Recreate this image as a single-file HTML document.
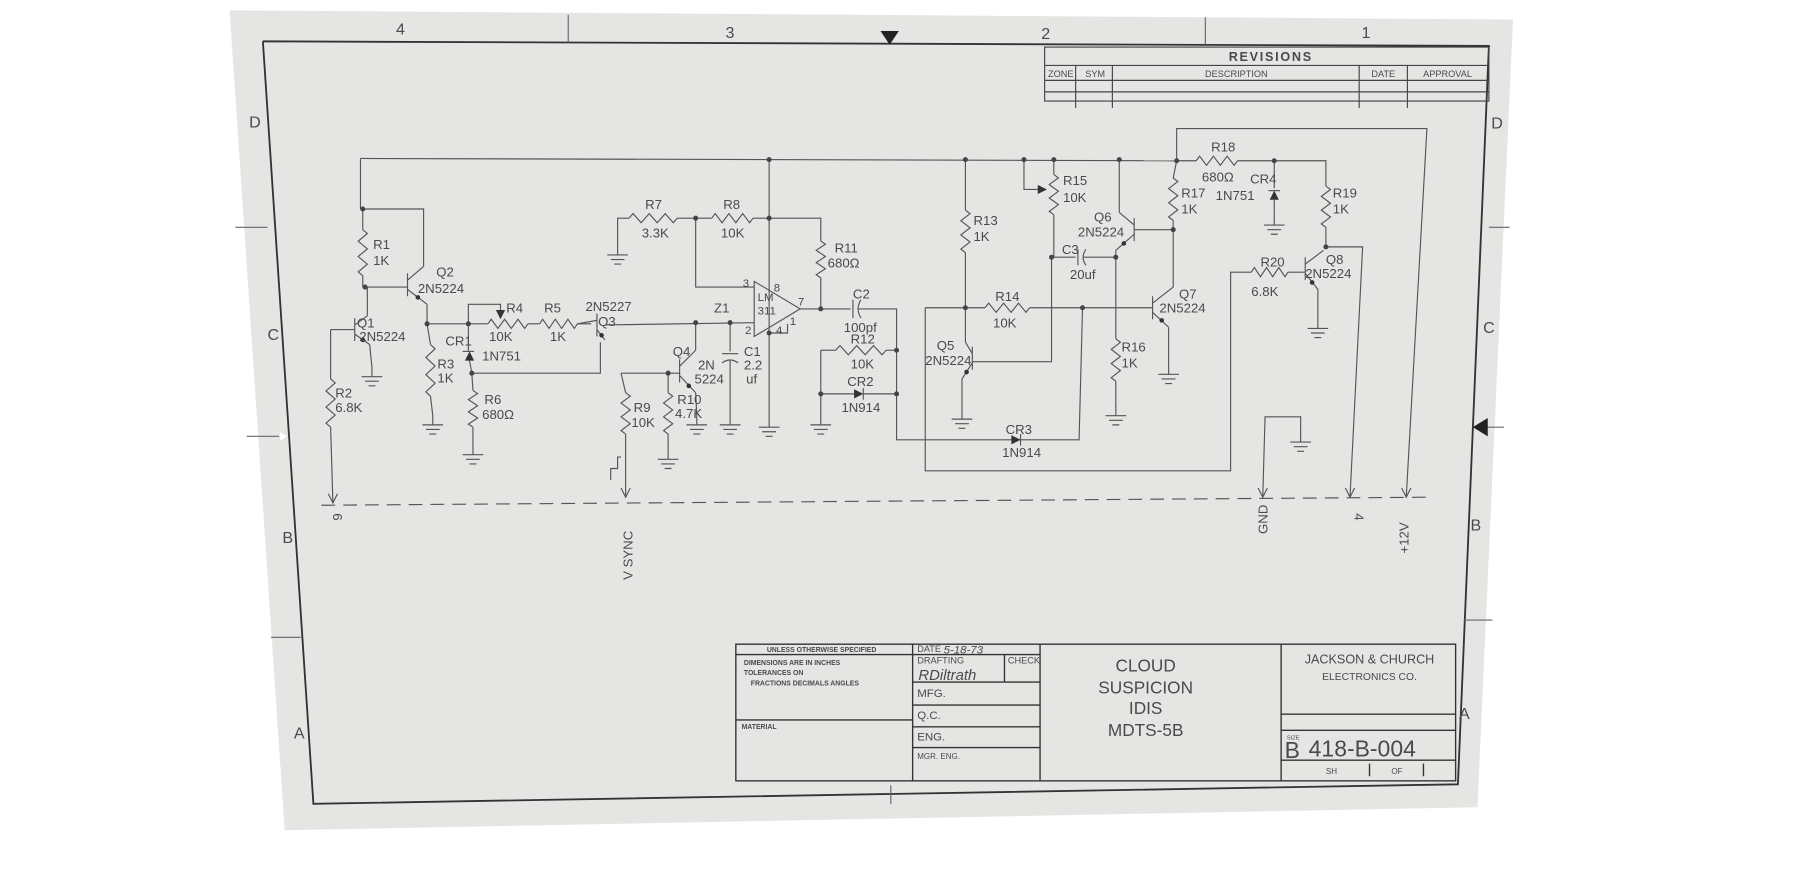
<!DOCTYPE html>
<html><head><meta charset="utf-8"><style>
html,body{margin:0;padding:0;background:#fff;width:1800px;height:875px;overflow:hidden}
svg{display:block}
text{font-family:"Liberation Sans",sans-serif;fill:#4a4a4a}
</style></head><body>
<svg width="1800" height="875" viewBox="0 0 1568 762" preserveAspectRatio="none" xmlns="http://www.w3.org/2000/svg" xmlns:xlink="http://www.w3.org/1999/xlink">
<defs>
<path id="gnd" d="M0,-8V0M-9,0h18M-6,4h12M-3,8h6" fill="none" stroke="#555" stroke-width="1"/>
<path id="arr" d="M-4,-8L0,0L4,-8" fill="none" stroke="#555" stroke-width="1"/>
<circle id="dot" r="2.2" fill="#444"/>
</defs>
<polygon points="200,9 1318,17 1287,703 248,723" fill="#e5e5e3"/>
<polyline points="229,36 1297,40 1270,683 273,700 229,36" fill="none" stroke="#333" stroke-width="1.6"/>
<g fill="none" stroke="#666" stroke-width="1">
<line x1="495" y1="13" x2="495" y2="37"/><line x1="1050" y1="15" x2="1050" y2="39"/>
<line x1="776" y1="684" x2="776" y2="700"/>
<line x1="205" y1="198" x2="233" y2="198"/><line x1="1297" y1="198" x2="1315" y2="198"/>
<line x1="215" y1="380" x2="243" y2="380"/><line x1="1290" y1="372" x2="1310" y2="372"/>
<line x1="236" y1="555" x2="262" y2="555"/><line x1="1275" y1="540" x2="1300" y2="540"/>
</g>
<polygon points="767,27 783,27 775,39" fill="#222"/>
<polygon points="1283,372 1296,364 1296,380" fill="#222"/>
<polygon points="244,376 244,384 250,380" fill="#fff"/>
<g font-size="14">
<text x="345" y="30">4</text><text x="632" y="33">3</text><text x="907" y="34">2</text><text x="1186" y="33">1</text>
<text x="217" y="111">D</text><text x="233" y="296">C</text><text x="246" y="473">B</text><text x="256" y="643">A</text>
<text x="1299" y="112">D</text><text x="1292" y="290">C</text><text x="1281" y="462">B</text><text x="1271" y="626">A</text>
</g>
<g fill="none" stroke="#444" stroke-width="1">
<rect x="910" y="41" width="387" height="47"/>
<line x1="910" y1="57" x2="1297" y2="57"/><line x1="910" y1="70" x2="1297" y2="70"/><line x1="910" y1="80" x2="1297" y2="80"/>
<line x1="937" y1="57" x2="937" y2="94"/><line x1="969" y1="57" x2="969" y2="94"/><line x1="1184" y1="57" x2="1184" y2="94"/><line x1="1226" y1="57" x2="1226" y2="94"/>
</g>
<text x="1107" y="53" font-size="11" text-anchor="middle" letter-spacing="1.5" font-weight="bold">REVISIONS</text>
<g font-size="8" text-anchor="middle"><text x="924" y="67">ZONE</text><text x="954" y="67">SYM</text><text x="1077" y="67">DESCRIPTION</text><text x="1205" y="67">DATE</text><text x="1261" y="67">APPROVAL</text></g>
<g fill="none" stroke="#333" stroke-width="1.2">
<rect x="641" y="561" width="627" height="119"/>
<line x1="795" y1="561" x2="795" y2="680"/><line x1="906" y1="561" x2="906" y2="680"/><line x1="1116" y1="561" x2="1116" y2="680"/>
<line x1="641" y1="570" x2="906" y2="570"/><line x1="641" y1="627" x2="795" y2="627"/>
<line x1="795" y1="594" x2="906" y2="594"/><line x1="795" y1="614" x2="906" y2="614"/><line x1="795" y1="633" x2="906" y2="633"/><line x1="795" y1="651" x2="906" y2="651"/>
<line x1="875" y1="570" x2="875" y2="594"/>
<line x1="1116" y1="622" x2="1268" y2="622"/><line x1="1116" y1="636" x2="1268" y2="636"/><line x1="1116" y1="662" x2="1268" y2="662"/>
<line x1="1193" y1="665" x2="1193" y2="676"/><line x1="1240" y1="665" x2="1240" y2="676"/>
</g>
<g font-size="6" font-weight="bold"><text x="668" y="568">UNLESS OTHERWISE SPECIFIED</text>
<text x="648" y="579">DIMENSIONS ARE IN INCHES</text><text x="648" y="588">TOLERANCES ON</text><text x="654" y="597">FRACTIONS   DECIMALS   ANGLES</text><text x="646" y="635">MATERIAL</text></g>
<g font-size="8"><text x="799" y="568">DATE</text><text x="799" y="578">DRAFTING</text><text x="878" y="578">CHECK</text>
<text x="799" y="607" font-size="10">MFG.</text><text x="799" y="626" font-size="10">Q.C.</text><text x="799" y="645" font-size="10">ENG.</text><text x="799" y="661" font-size="7">MGR. ENG.</text>
<text x="1121" y="644" font-size="5">SIZE</text><text x="1155" y="674" font-size="7">SH</text><text x="1212" y="674" font-size="7">OF</text></g>
<text x="822" y="569" font-size="10" font-style="italic" fill="#777">5-18-73</text>
<text x="800" y="592" font-size="13" font-style="italic" fill="#777" font-family="Liberation Serif">RDiltrath</text>
<g font-size="15" text-anchor="middle" fill="#555"><text x="998" y="585">CLOUD</text><text x="998" y="604">SUSPICION</text><text x="998" y="622">IDIS</text><text x="998" y="641">MDTS-5B</text></g>
<text x="1193" y="578" font-size="11" text-anchor="middle">JACKSON &amp; CHURCH</text>
<text x="1193" y="592" font-size="9" text-anchor="middle">ELECTRONICS CO.</text>
<text x="1119" y="660" font-size="20">B</text><text x="1140" y="659" font-size="20" fill="#666">418-B-004</text>

<!-- circuit wires -->
<g fill="none" stroke="#555" stroke-width="1">
<line x1="280" y1="440" x2="1245" y2="433" stroke-dasharray="12,7"/>
<polyline points="314,138 1025,140"/><polyline points="314,138 314,182"/>
<polyline points="1025,140 1025,112 1243,112 1225,433"/>
<!-- resistors -->
<path d="M288,330 l4,3.5 l-8,7 l8,7 l-8,7 l8,7 l-8,7 l4,3.5"/>
<path d="M316,200 l4,3.3 l-8,6.7 l8,6.7 l-8,6.7 l8,6.7 l-8,6.7 l4,3.3"/>
<path d="M375,300 l4,3.75 l-8,7.5 l8,7.5 l-8,7.5 l8,7.5 l-8,7.5 l4,3.75"/>
<path d="M412,340 l4,2.67 l-8,5.33 l8,5.33 l-8,5.33 l8,5.33 l-8,5.33 l4,2.67"/>
<path d="M425,282 l2.9,-4 l5.83,8 l5.83,-8 l5.83,8 l5.83,-8 l5.83,8 l2.9,-4"/>
<path d="M470,282 l2.75,-4 l5.5,8 l5.5,-8 l5.5,8 l5.5,-8 l5.5,8 l2.75,-4"/>
<path d="M548,190 l3.5,-4 l7,8 l7,-8 l7,8 l7,-8 l7,8 l3.5,-4"/>
<path d="M620,190 l3,-4 l6,8 l6,-8 l6,8 l6,-8 l6,8 l3,-4"/>
<path d="M715,210 l4,2.67 l-8,5.33 l8,5.33 l-8,5.33 l8,5.33 l-8,5.33 l4,2.67"/>
<path d="M728,305 l3.67,-4 l7.33,8 l7.33,-8 l7.33,8 l7.33,-8 l7.33,8 l3.67,-4"/>
<path d="M545,342 l4,3 l-8,6 l8,6 l-8,6 l8,6 l-8,6 l4,3"/>
<path d="M582,342 l4,3 l-8,6 l8,6 l-8,6 l8,6 l-8,6 l4,3"/>
<path d="M841,183 l4,3.08 l-8,6.17 l8,6.17 l-8,6.17 l8,6.17 l-8,6.17 l4,3.08"/>
<path d="M858,268 l3.25,-4 l6.5,8 l6.5,-8 l6.5,8 l6.5,-8 l6.5,8 l3.25,-4"/>
<path d="M918,152 l4,2.92 l-8,5.83 l8,5.83 l-8,5.83 l8,5.83 l-8,5.83 l4,2.92"/>
<path d="M972,295 l4,3.08 l-8,6.17 l8,6.17 l-8,6.17 l8,6.17 l-8,6.17 l4,3.08"/>
<path d="M1022,155 l4,3.08 l-8,6.17 l8,6.17 l-8,6.17 l8,6.17 l-8,6.17 l4,3.08"/>
<path d="M1042,140 l3,-4 l6,8 l6,-8 l6,8 l6,-8 l6,8 l3,-4"/>
<path d="M1155,162 l4,3 l-8,6 l8,6 l-8,6 l8,6 l-8,6 l4,3"/>
<path d="M1090,237 l2.67,-4 l5.33,8 l5.33,-8 l5.33,8 l5.33,-8 l5.33,8 l2.67,-4"/>
<!-- transistors: bar, collector, emitter -->
<path d="M309,277v20M309,283L320,275M309,291L322,300"/>
<path d="M355,238v20M355,244L369,232M355,252L372,265"/>
<path d="M520,273v20M520,279L503,282M520,287L527,296"/>
<path d="M592,313v20M592,319L606,305M592,327L606,342"/>
<path d="M847,302v20M847,308L841,298M847,316L838,330"/>
<path d="M988,190v20M988,196L975,185M988,204L972,218"/>
<path d="M1004,258v20M1004,264L1022,250M1004,272L1018,285"/>
<path d="M1137,224v20M1137,230L1153,218M1137,238L1148,252"/>
<!-- left section wires -->
<polyline points="288,287 309,287"/><polyline points="288,287 288,330"/><polyline points="288,372 290,438"/>
<polyline points="322,300 324,320"/>
<polyline points="316,182 316,200"/><polyline points="316,240 316,250"/><polyline points="320,275 320,250"/>
<polyline points="316,182 369,182 369,232"/><polyline points="318,250 355,250"/><polyline points="372,265 372,282"/>
<polyline points="372,282 425,282"/><polyline points="372,282 375,300"/><polyline points="375,345 377,362"/>
<polyline points="408,282 408,265 436,265 436,272"/>
<polyline points="460,282 470,282"/><polyline points="503,282 515,282"/>
<polyline points="408,282 408,306"/><polyline points="409,314 411,325"/><polyline points="411,325 412,340"/><polyline points="412,372 412,388"/>
<polyline points="411,325 523,325 523,298"/>
<polyline points="527,283 657,281"/>
<polyline points="538,214 538,190 548,190"/><polyline points="590,190 620,190"/><polyline points="656,190 670,190"/>
<polyline points="606,190 606,250 657,250"/><polyline points="670,139 670,364"/>
<polyline points="670,290 686,290 686,282"/>
<polyline points="670,190 715,190 715,210"/><polyline points="715,242 715,269"/>
<polygon points="657,245 657,293 697,269"/><polyline points="697,269 741,269"/>
<line x1="743" y1="261" x2="743" y2="277"/><path d="M750,261 Q745,269 750,277"/>
<polyline points="748,269 781,269 781,383 940,383 943,268"/>
<polyline points="715,305 728,305"/><polyline points="772,305 781,305"/><polyline points="715,305 715,362"/>
<polyline points="715,343 744,343"/><polyline points="752,343 781,343"/>
<polyline points="636,281 636,306"/><line x1="629" y1="308" x2="643" y2="308"/><path d="M629,316 Q636,311 643,316"/><polyline points="636,314 636,362"/>
<polyline points="606,281 606,305"/><polyline points="606,342 607,362"/>
<polyline points="582,325 592,325"/><polyline points="541,325 582,325"/><polyline points="541,325 545,342"/><polyline points="545,378 545,433"/>
<polyline points="582,325 582,342"/><polyline points="582,378 582,392"/>
<polyline points="532,418 532,408 538,408 538,398 541,398"/>
<!-- middle -->
<polyline points="841,139 841,183"/><polyline points="841,220 841,268"/>
<polyline points="806,268 858,268"/><polyline points="897,268 1004,268"/>
<polyline points="841,268 841,298"/><polyline points="838,330 838,357"/><polyline points="847,315 916,315 916,224"/>
<polyline points="806,268 806,410 1072,410 1072,237 1090,237"/><polyline points="1122,237 1137,237"/>
<polyline points="892,139 892,165 906,165"/>
<polyline points="918,139 918,152"/><polyline points="918,187 918,224"/>
<polyline points="916,224 937,224"/><line x1="939" y1="217" x2="939" y2="231"/><path d="M946,217 Q941,224 946,231"/><polyline points="944,224 972,224"/>
<polyline points="975,139 975,185"/><polyline points="972,218 972,295"/><polyline points="972,332 972,355"/>
<polyline points="988,200 1022,200"/><polyline points="1025,140 1022,155"/><polyline points="1022,192 1022,250"/>
<polyline points="1018,285 1018,318"/>
<polyline points="1025,140 1042,140"/><polyline points="1078,140 1155,140 1155,162"/>
<polyline points="1110,140 1110,164"/><polyline points="1110,174 1110,188"/>
<polyline points="1155,198 1155,215"/><polyline points="1155,215 1187,215 1176,433"/>
<polyline points="1148,252 1148,278"/>
<polyline points="1100,433 1102,363 1133,363 1133,378"/>
<!-- diode bars -->
<line x1="403" y1="306" x2="413" y2="306"/><line x1="1105" y1="166" x2="1115" y2="166"/>
<line x1="752" y1="338" x2="752" y2="348"/><line x1="889" y1="378" x2="889" y2="388"/>
</g>
<!-- filled bits: diodes, emitter arrows, pot wipers -->
<g fill="#333">
<polygon points="405,314 413,314 409,306"/><polygon points="1106,174 1114,174 1110,166"/>
<polygon points="744,339 744,347 752,343"/><polygon points="881,379 881,387 889,383"/>
<polygon points="432,270 440,270 436,278"/><polygon points="904,161 904,169 912,165"/>
<circle cx="316" cy="296" r="2"/><circle cx="364" cy="259" r="2"/><circle cx="524" cy="292" r="2"/><circle cx="600" cy="336" r="2"/>
<circle cx="842" cy="324" r="2"/><circle cx="979" cy="212" r="2"/><circle cx="1012" cy="279" r="2"/><circle cx="1143" cy="246" r="2"/>
</g>
<!-- dots -->
<use xlink:href="#dot" x="316" y="182"/><use xlink:href="#dot" x="318" y="250"/><use xlink:href="#dot" x="372" y="282"/><use xlink:href="#dot" x="408" y="282"/><use xlink:href="#dot" x="411" y="325"/>
<use xlink:href="#dot" x="606" y="190"/><use xlink:href="#dot" x="670" y="190"/><use xlink:href="#dot" x="670" y="139"/><use xlink:href="#dot" x="670" y="290"/>
<use xlink:href="#dot" x="715" y="269"/><use xlink:href="#dot" x="781" y="305"/><use xlink:href="#dot" x="781" y="343"/><use xlink:href="#dot" x="715" y="343"/>
<use xlink:href="#dot" x="606" y="281"/><use xlink:href="#dot" x="636" y="281"/><use xlink:href="#dot" x="582" y="325"/>
<use xlink:href="#dot" x="841" y="139"/><use xlink:href="#dot" x="841" y="268"/><use xlink:href="#dot" x="943" y="268"/>
<use xlink:href="#dot" x="892" y="139"/><use xlink:href="#dot" x="918" y="139"/><use xlink:href="#dot" x="916" y="224"/><use xlink:href="#dot" x="972" y="224"/>
<use xlink:href="#dot" x="975" y="139"/><use xlink:href="#dot" x="1022" y="200"/><use xlink:href="#dot" x="1025" y="140"/><use xlink:href="#dot" x="1110" y="140"/><use xlink:href="#dot" x="1155" y="215"/>
<!-- grounds -->
<use xlink:href="#gnd" x="324" y="328"/><use xlink:href="#gnd" x="377" y="370"/><use xlink:href="#gnd" x="412" y="396"/><use xlink:href="#gnd" x="538" y="222"/>
<use xlink:href="#gnd" x="670" y="372"/><use xlink:href="#gnd" x="715" y="370"/><use xlink:href="#gnd" x="636" y="370"/><use xlink:href="#gnd" x="607" y="370"/><use xlink:href="#gnd" x="582" y="400"/>
<use xlink:href="#gnd" x="838" y="365"/><use xlink:href="#gnd" x="972" y="362"/><use xlink:href="#gnd" x="1018" y="326"/><use xlink:href="#gnd" x="1110" y="196"/><use xlink:href="#gnd" x="1148" y="286"/><use xlink:href="#gnd" x="1133" y="385"/>
<!-- arrows -->
<use xlink:href="#arr" x="290" y="438"/><use xlink:href="#arr" x="545" y="433"/><use xlink:href="#arr" x="1100" y="433"/><use xlink:href="#arr" x="1176" y="433"/><use xlink:href="#arr" x="1225" y="433"/>

<g font-size="11.5">
<text x="292" y="346">R2</text><text x="292" y="359">6.8K</text>
<text x="311" y="285">Q1</text><text x="313" y="297">2N5224</text>
<text x="325" y="217">R1</text><text x="325" y="231">1K</text>
<text x="380" y="241">Q2</text><text x="364" y="255">2N5224</text>
<text x="441" y="272">R4</text><text x="426" y="297">10K</text>
<text x="474" y="272">R5</text><text x="479" y="297">1K</text>
<text x="510" y="271">2N5227</text><text x="521" y="284">Q3</text>
<text x="388" y="301">CR1</text><text x="420" y="314">1N751</text>
<text x="381" y="321">R3</text><text x="381" y="333">1K</text>
<text x="422" y="352">R6</text><text x="420" y="365">680Ω</text>
<text x="562" y="182">R7</text><text x="559" y="207">3.3K</text>
<text x="630" y="182">R8</text><text x="628" y="207">10K</text>
<text x="727" y="220">R11</text><text x="721" y="233">680Ω</text>
<text x="622" y="272">Z1</text><text x="660" y="262" font-size="10">LM</text><text x="660" y="274" font-size="10">311</text>
<text x="647" y="250" font-size="10">3</text><text x="674" y="254" font-size="10">8</text><text x="695" y="266" font-size="10">7</text><text x="649" y="291" font-size="10">2</text><text x="676" y="291" font-size="10">4</text><text x="688" y="283" font-size="10">1</text>
<text x="743" y="260">C2</text><text x="735" y="289">100pf</text>
<text x="741" y="299">R12</text><text x="741" y="321">10K</text>
<text x="738" y="336">CR2</text><text x="733" y="359">1N914</text>
<text x="586" y="310">Q4</text><text x="608" y="322">2N</text><text x="605" y="334">5224</text>
<text x="648" y="310">C1</text><text x="648" y="322">2.2</text><text x="650" y="334">uf</text>
<text x="552" y="359">R9</text><text x="550" y="372">10K</text>
<text x="590" y="352">R10</text><text x="588" y="364">4.7K</text>
<text x="848" y="196">R13</text><text x="848" y="210">1K</text>
<text x="867" y="262">R14</text><text x="865" y="285">10K</text>
<text x="816" y="305">Q5</text><text x="806" y="318">2N5224</text>
<text x="926" y="161">R15</text><text x="926" y="176">10K</text>
<text x="953" y="193">Q6</text><text x="939" y="206">2N5224</text>
<text x="925" y="221">C3</text><text x="932" y="243">20uf</text>
<text x="977" y="306">R16</text><text x="977" y="320">1K</text>
<text x="1029" y="172">R17</text><text x="1029" y="186">1K</text>
<text x="1027" y="260">Q7</text><text x="1010" y="272">2N5224</text>
<text x="1055" y="132">R18</text><text x="1047" y="158">680Ω</text>
<text x="1089" y="160">CR4</text><text x="1059" y="174">1N751</text>
<text x="1161" y="172">R19</text><text x="1161" y="186">1K</text>
<text x="1098" y="232">R20</text><text x="1090" y="258">6.8K</text>
<text x="1155" y="230">Q8</text><text x="1137" y="242">2N5224</text>
<text x="876" y="378">CR3</text><text x="873" y="398">1N914</text>
<text transform="translate(290,447) rotate(90)">6</text>
<text transform="translate(551,505) rotate(-90)">V SYNC</text>
<text transform="translate(1104,465) rotate(-90)">GND</text>
<text transform="translate(1180,447) rotate(90)">4</text>
<text transform="translate(1227,482) rotate(-90)">+12V</text>
</g>
</svg>
</body></html>
